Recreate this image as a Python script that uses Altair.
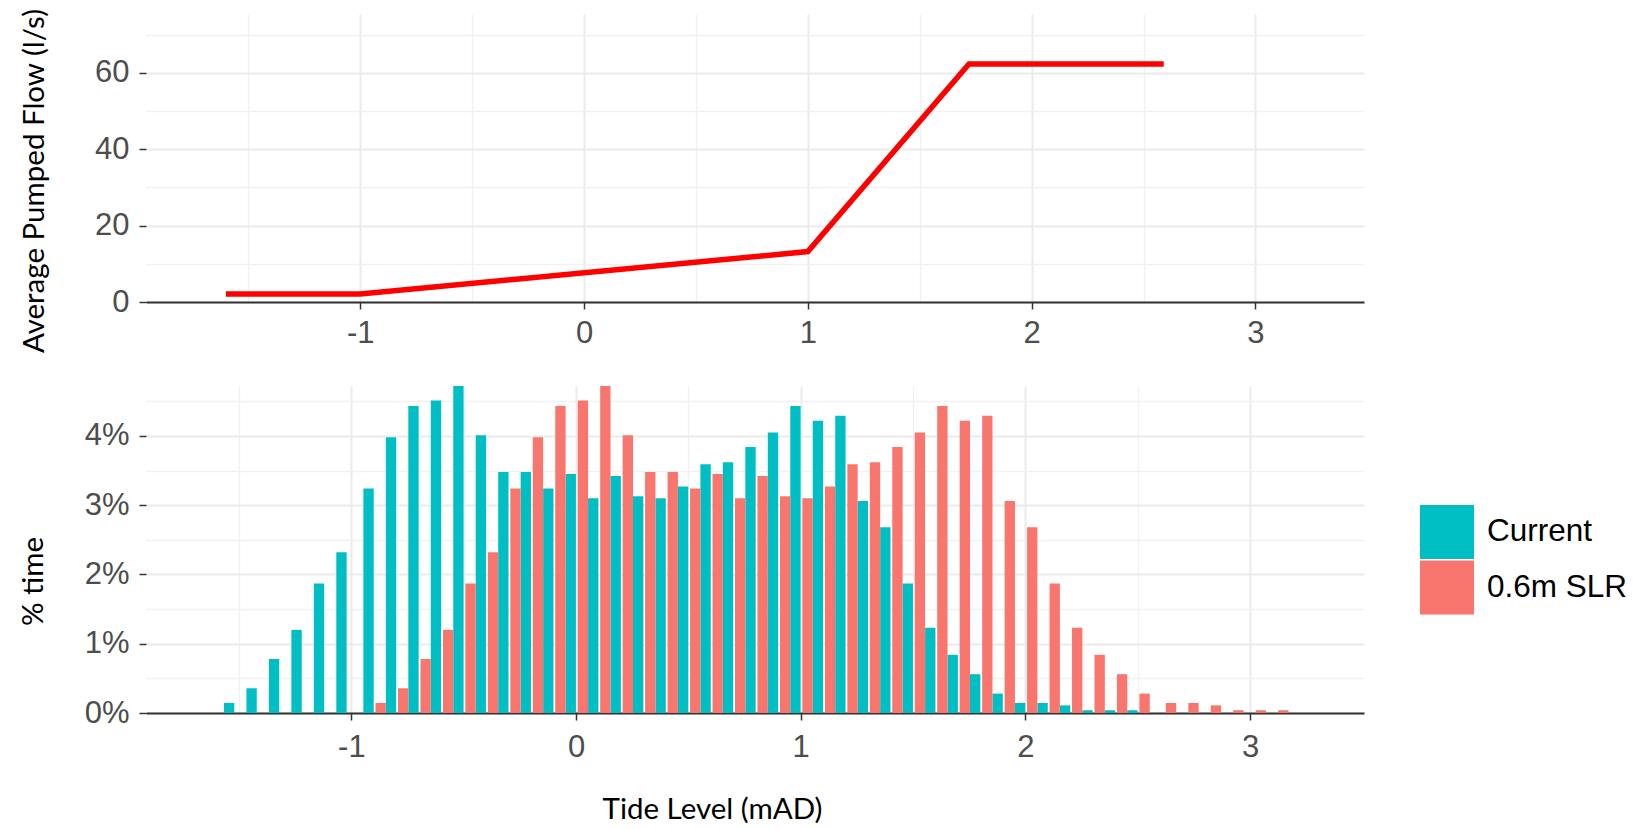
import altair as alt
import pandas as pd

# Pump curve: average pumped flow (l/s) against tide level (mAD)
pump_tide = [-1.6, -1.0, 1.0, 1.72, 2.59]
pump_flow = [2.1, 2.1, 13.2, 62.3, 62.3]

# Tide level distribution, % of time in each 0.1 m bin
bin_width = 0.1
current_first_bin = -1.5
current_pct = [0.145, 0.357, 0.78, 1.20, 1.87, 2.32, 3.24, 3.98, 4.43, 4.51,
               4.72, 4.01, 3.48, 3.48, 3.24, 3.45, 3.10, 3.42, 3.13, 3.10,
               3.27, 3.59, 3.62, 3.84, 4.05, 4.43, 4.22, 4.29, 3.06, 2.68,
               1.87, 1.23, 0.84, 0.56, 0.28, 0.145, 0.145, 0.11, 0.04, 0.04,
               0.04]
slr_first_bin = -0.9
slr_pct = [0.145, 0.357, 0.78, 1.20, 1.87, 2.32, 3.24, 3.98, 4.43, 4.51,
           4.72, 4.01, 3.48, 3.48, 3.24, 3.45, 3.10, 3.42, 3.13, 3.10,
           3.27, 3.59, 3.62, 3.84, 4.05, 4.43, 4.22, 4.29, 3.06, 2.68,
           1.87, 1.23, 0.84, 0.56, 0.28, 0.145, 0.145, 0.11, 0.04, 0.04,
           0.04]

series_names = ["Current", "0.6m SLR"]
series_colors = ["#00BFC4", "#F8766D"]

x_ticks = [-1.5, -1.0, -0.5, 0.0, 0.5, 1.0, 1.5, 2.0, 2.5, 3.0]
flow_ticks = [0, 10, 20, 30, 40, 50, 60, 70]
pct_ticks = [0, 0.5, 1, 1.5, 2, 2.5, 3, 3.5, 4, 4.5]

pump_df = pd.DataFrame({"tide": pump_tide, "flow": pump_flow})

rows = []
for name, first, values in [("Current", current_first_bin, current_pct),
                            ("0.6m SLR", slr_first_bin, slr_pct)]:
    for i, v in enumerate(values):
        rows.append({"series": name, "bin": round(first + i * bin_width, 1), "pct": v})
hist_df = pd.DataFrame(rows)

TICK_FONT = "Liberation Sans"
TITLE_FONT = "Lato"
PANEL_W = 1218


def grid_axis(values, major_test, label_expr, **kw):
    opts = dict(
        values=values,
        labelExpr=label_expr,
        labelOverlap=False,
        labelFlush=False,
        labelFont=TICK_FONT,
        labelFontSize=31,
        labelColor="#4D4D4D",
        grid=True,
        gridColor={"condition": {"test": major_test, "value": "#EBEBEB"}, "value": "#F1F1F1"},
        gridWidth={"condition": {"test": major_test, "value": 2}, "value": 1.3},
        ticks=True,
        tickColor="#333333",
        tickWidth=1.5,
        tickSize=7,
        tickOpacity={"condition": {"test": major_test, "value": 1}, "value": 0},
        titleFont=TITLE_FONT,
        titleFontSize=29.5,
        titleFontWeight="normal",
        titleColor="#000000",
    )
    opts.update(kw)
    return alt.Axis(**opts)


int_test = "datum.value % 1 === 0"

# Upper panel: pump curve
pump = alt.Chart(pump_df).mark_line(
    color="#FF0000", strokeWidth=5.5, strokeCap="butt", strokeJoin="miter"
).encode(
    x=alt.X("tide:Q",
            scale=alt.Scale(domain=[-1.957, 3.485], nice=False, zero=False),
            axis=grid_axis(x_ticks, int_test, f"{int_test} ? '' + datum.value : ''",
                           title=None, domain=True, domainColor="#333333",
                           domainWidth=2, labelPadding=9)),
    y=alt.Y("flow:Q",
            scale=alt.Scale(domain=[0, 75.4], nice=False),
            axis=grid_axis(flow_ticks, "datum.value % 20 === 0",
                           "datum.value % 20 === 0 ? '' + datum.value : ''",
                           title="Average Pumped Flow (l/s)", domain=False,
                           labelPadding=10, titleX=-112, titleY=166.5,
                           titleAngle=270, titleAlign="center",
                           titleBaseline="middle")),
    order="tide:Q",
).properties(width=PANEL_W, height=288)

# Lower panel: dodged histogram of tide levels
hist = alt.Chart(hist_df).transform_joinaggregate(
    n="count()", groupby=["bin"]
).transform_calculate(
    mid="datum.bin + (datum.series === 'Current' ? (datum.n > 1 ? -0.0235 : -0.044)"
        " : (datum.n > 1 ? 0.0305 : 0.048))",
    base="0",
).transform_calculate(
    left="datum.mid - 0.023",
    right="datum.mid + 0.023",
).mark_rect(strokeWidth=0).encode(
    x=alt.X("left:Q",
            scale=alt.Scale(domain=[-1.914, 3.507], nice=False, zero=False),
            axis=grid_axis(x_ticks, int_test, f"{int_test} ? '' + datum.value : ''",
                           title="Tide Level (mAD)", domain=True,
                           domainColor="#333333", domainWidth=2,
                           labelPadding=12, titleX=566, titleY=105,
                           titleAlign="center", titleBaseline="alphabetic")),
    x2="right:Q",
    y=alt.Y("pct:Q",
            scale=alt.Scale(domain=[0, 4.72], nice=False),
            axis=grid_axis(pct_ticks, int_test, f"{int_test} ? datum.value + '%' : ''",
                           title="% time", domain=False, labelPadding=10,
                           titleX=-113, titleY=195, titleAngle=270,
                           titleAlign="center", titleBaseline="middle")),
    y2="base:Q",
    color=alt.Color("series:N",
                    scale=alt.Scale(domain=series_names, range=series_colors),
                    legend=alt.Legend(title=None, orient="none", legendX=1274,
                                      legendY=491, direction="vertical",
                                      symbolType="square", symbolSize=2916,
                                      symbolStrokeWidth=0, symbolOpacity=1,
                                      labelFont=TICK_FONT, labelFontSize=31.5,
                                      labelColor="#000000", labelOffset=13,
                                      labelLimit=400, rowPadding=1.5,
                                      padding=0)),
).properties(width=PANEL_W, height=327)

chart = alt.vconcat(pump, hist, spacing=84, bounds="flush").properties(
    padding={"left": 18, "top": 8, "right": 0, "bottom": 0},
    background="white",
).configure_view(stroke=None)

chart.save("out.html", embed_options={"renderer": "svg", "actions": False})
